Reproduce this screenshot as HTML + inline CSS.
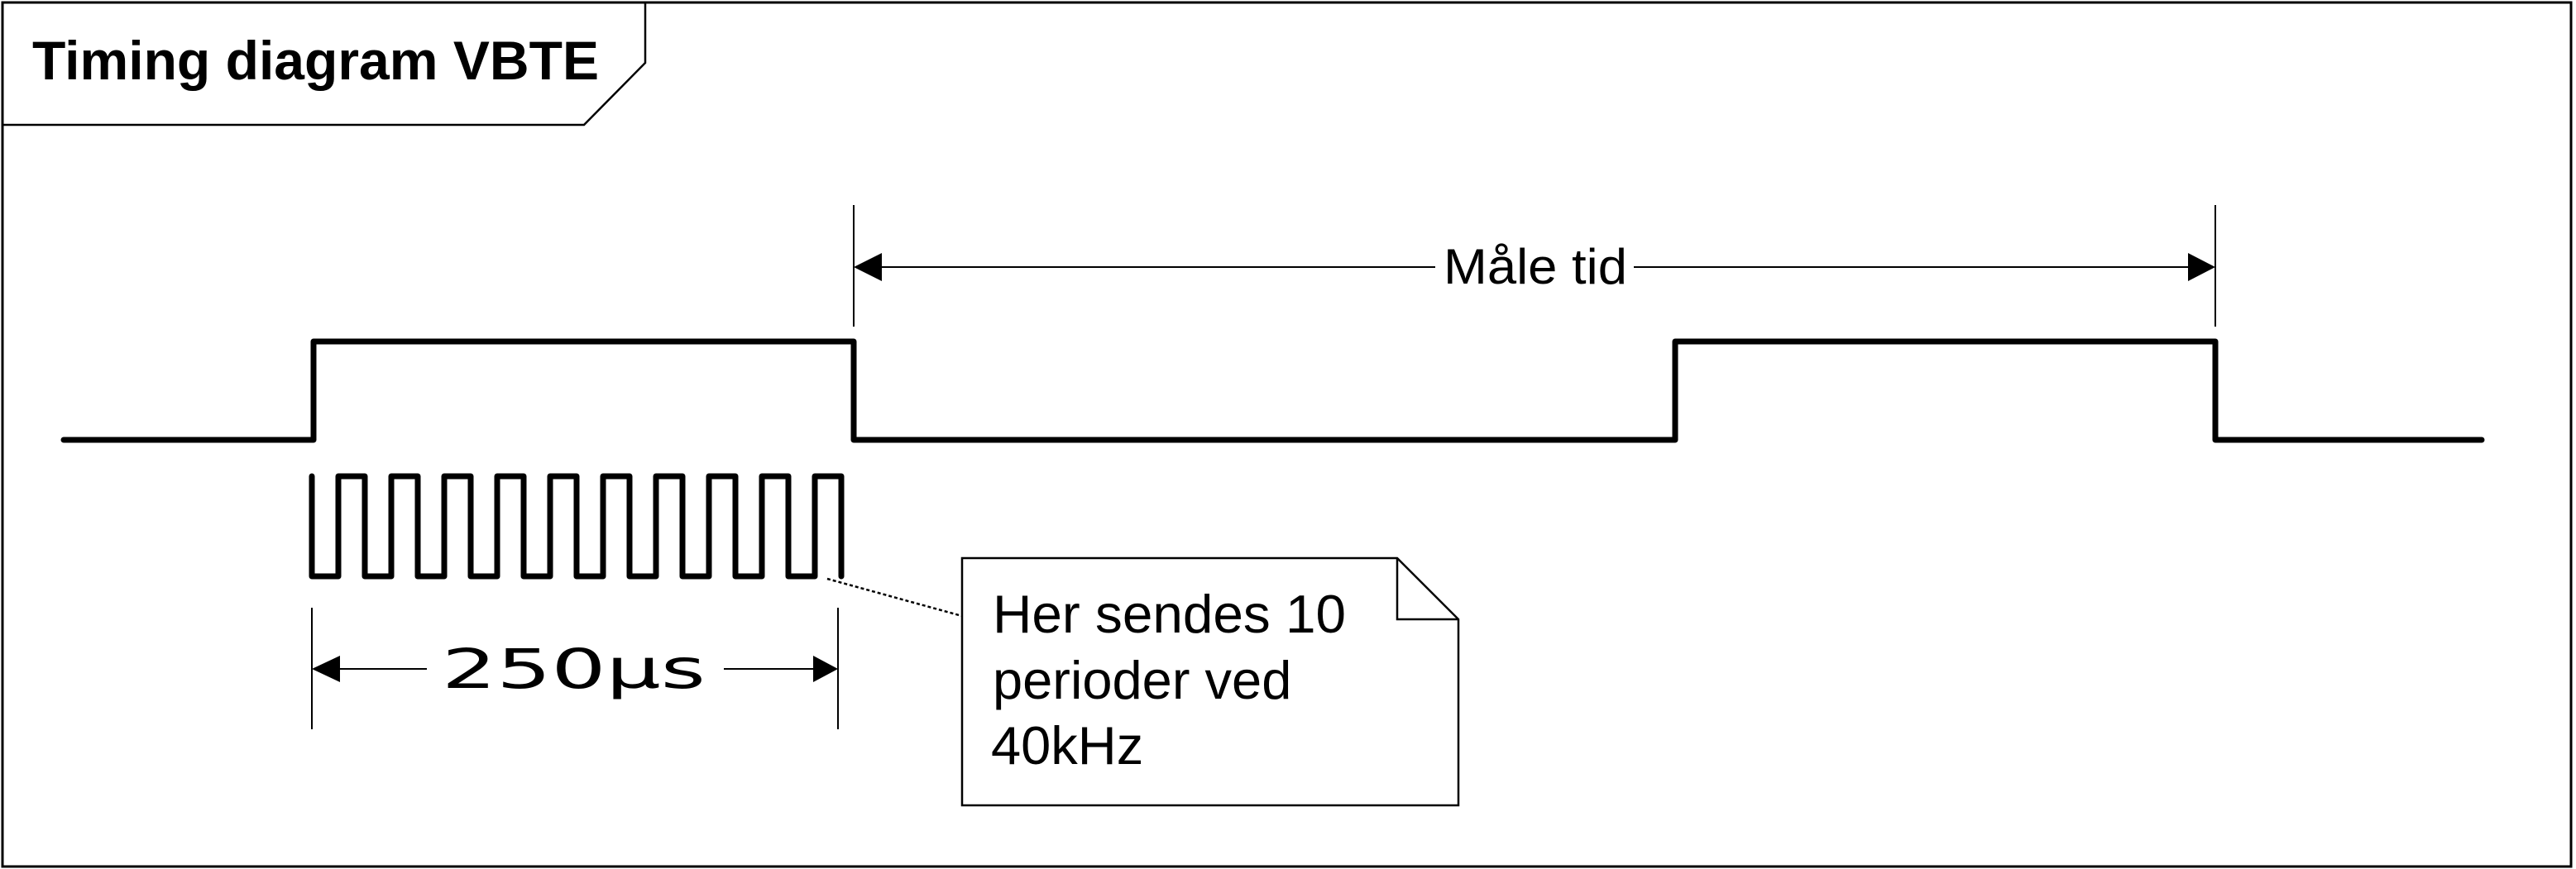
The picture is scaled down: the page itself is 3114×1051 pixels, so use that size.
<!DOCTYPE html>
<html><head><meta charset="utf-8"><style>html,body{margin:0;padding:0;background:#fff}svg{display:block}</style></head>
<body>
<svg width="3114" height="1051" viewBox="0 0 3114 1051" xmlns="http://www.w3.org/2000/svg">
<rect x="0" y="0" width="3114" height="1051" fill="#fff"/>
<rect x="3" y="3" width="3105" height="1045" fill="none" stroke="#000" stroke-width="3"/>
<polyline points="780,3 780,76 706,151 3,151" fill="none" stroke="#000" stroke-width="2.5"/>
<text x="39" y="96" font-family="Liberation Sans, sans-serif" font-weight="bold" font-size="66" textLength="685" lengthAdjust="spacingAndGlyphs">Timing diagram VBTE</text>

<g fill="none" stroke="#000" stroke-width="7" stroke-linejoin="round" stroke-linecap="round">
<polyline points="77,532 379,532 379,413 1032,413 1032,532 2025,532 2025,413 2678,413 2678,532 3000,532"/>
<path d="M377,576 V697 H409 V576 H441 V697 H473 V576 H505 V697 H537 V576 H569 V697 H601 V576 H633 V697 H665 V576 H697 V697 H729 V576 H761 V697 H793 V576 H825 V697 H857 V576 H889 V697 H921 V576 H953 V697 H985 V576 H1017 V697"/>
</g>

<g stroke="#000" stroke-width="2" fill="none">
<line x1="1032" y1="248" x2="1032" y2="395"/>
<line x1="2678" y1="248" x2="2678" y2="395"/>
<line x1="1066" y1="323" x2="1735" y2="323"/>
<line x1="1975" y1="323" x2="2645" y2="323"/>
<line x1="377" y1="735" x2="377" y2="882"/>
<line x1="1013" y1="735" x2="1013" y2="882"/>
<line x1="411" y1="809" x2="516" y2="809"/>
<line x1="875" y1="809" x2="983" y2="809"/>
<line x1="1000" y1="700" x2="1163" y2="745" stroke-dasharray="4,3" stroke-width="2.5"/>
<polygon points="1163,675 1689,675 1763,749 1763,974 1163,974" fill="#fff" stroke-width="2.5"/>
<polyline points="1689,675 1689,749 1763,749" stroke-width="2.5"/>
</g>
<g fill="#000">
<polygon points="1032,323 1066,306 1066,340"/>
<polygon points="2678,323 2645,306 2645,340"/>
<polygon points="377,809 411,793 411,825"/>
<polygon points="1013,809 983,793 983,825"/>
</g>

<text x="1745" y="343" font-family="Liberation Sans, sans-serif" font-size="60" textLength="222" lengthAdjust="spacingAndGlyphs">Måle tid</text>
<text x="534" y="832" font-family="DejaVu Sans, sans-serif" font-size="66" textLength="319" lengthAdjust="spacingAndGlyphs">250µs</text>
<g font-family="Liberation Sans, sans-serif" font-size="65">
<text x="1200" y="765" textLength="427" lengthAdjust="spacingAndGlyphs">Her sendes 10</text>
<text x="1200" y="845">perioder ved</text>
<text x="1198" y="924">40kHz</text>
</g>
</svg>
</body></html>
